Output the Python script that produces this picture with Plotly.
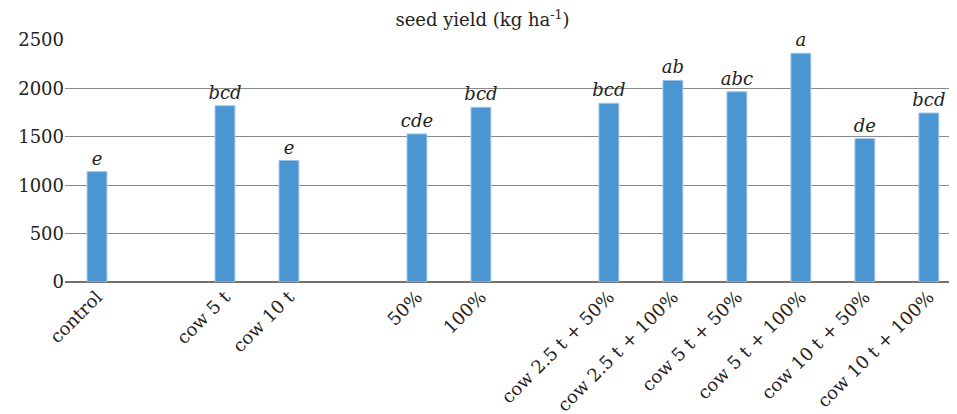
import plotly.graph_objects as go

categories = ["control", " ", "cow 5 t", "cow 10 t", "  ", "50%", "100%", "   ",
              "cow 2.5 t + 50%", "cow 2.5 t + 100%", "cow 5 t + 50%", "cow 5 t + 100%",
              "cow 10 t + 50%", "cow 10 t + 100%"]
seed_yield = [1140, None, 1821, 1255, None, 1530, 1804, None,
              1846, 2082, 1965, 2363, 1481, 1746]
letters = ["e", "", "bcd", "e", "", "cde", "bcd", "",
           "bcd", "ab", "abc", "a", "de", "bcd"]
y_ticks = [0, 500, 1000, 1500, 2000, 2500]

FONT = "DejaVu Serif"

fig = go.Figure(go.Bar(
    x=categories,
    y=seed_yield,
    text=[f"<i>{t}</i>" if t else " " for t in letters],
    textposition="outside",
    constraintext="none",
    cliponaxis=False,
    textfont=dict(family=FONT, size=18, color="#222"),
    marker=dict(color="#4b96d2", line=dict(color="#9cc4e8", width=1)),
    hoverinfo="x+y",
))

# the page body has an 8px margin, so the figure is sized/placed to compensate
fig.update_layout(
    width=949, height=406,
    margin=dict(l=57, r=0, t=32, b=132),
    paper_bgcolor="white", plot_bgcolor="white",
    bargap=0.69,
    showlegend=False,
    font=dict(family=FONT, size=18, color="#222"),
    title=dict(text="seed yield (kg ha<sup>-1</sup>)", x=0.5, xanchor="center",
               y=1 - 12 / 406, yanchor="middle", font=dict(family=FONT, size=18, color="#222")),
    xaxis=dict(type="category", range=[-0.5, 13.44], tickangle=-45, automargin=False,
               showgrid=False, showline=False, ticks="", tickfont=dict(size=18)),
    yaxis=dict(range=[0, 2500], tickvals=y_ticks, showgrid=True, gridcolor="#8a8a8a",
               gridwidth=1, zeroline=True, zerolinecolor="#707070", zerolinewidth=1.5,
               automargin=False, ticks="", tickfont=dict(size=18), showline=False),
)

fig.write_html("out.html")
